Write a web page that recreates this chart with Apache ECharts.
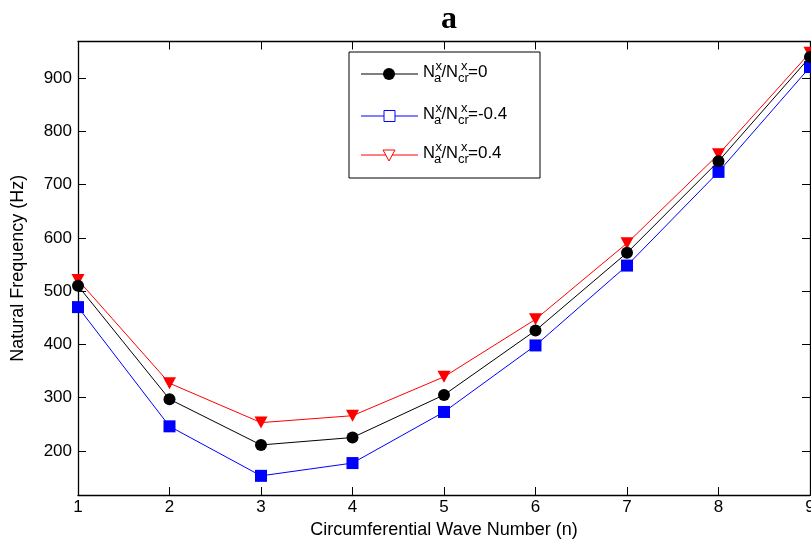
<!DOCTYPE html>
<html>
<head>
<meta charset="utf-8">
<script src="https://cdn.jsdelivr.net/npm/echarts@6/dist/echarts.min.js"></script>
<style>
  html, body { margin: 0; padding: 0; background: #fff; }
  #chart { width: 811px; height: 546px; }
</style>
</head>
<body>
<div id="chart"></div>
<script>
// Circumferential wave numbers
const waveNumbers = [1, 2, 3, 4, 5, 6, 7, 8, 9];
// Natural frequencies (Hz) for each axial load ratio
const freqRatio0 = [510, 297, 211, 225, 305, 426, 572, 744, 940];
const freqRatioNeg04 = [470, 246, 153, 177, 273, 398, 548, 724, 921];
const freqRatioPos04 = [521, 327, 253, 266, 339, 447, 590, 757, 948];
// Frequency axis tick values
const yTicks = [200, 300, 400, 500, 600, 700, 800, 900];

const FONT = '"Liberation Sans", Arial, Helvetica, sans-serif';

const pairs = vals => waveNumbers.map((n, i) => [n, vals[i]]);

const chart = echarts.init(document.getElementById('chart'), null, { renderer: 'canvas' });

const gridLeft = 78, gridTop = 41.5, gridRight = 1, gridBottom = 51;

const baseX = {
  type: 'value', min: 1, max: 9, interval: 1,
  axisLine: { show: true, onZero: false, lineStyle: { color: '#000', width: 1.3 } },
  axisTick: { show: true, inside: true, length: 8, lineStyle: { color: '#000', width: 1 } },
  splitLine: { show: false }
};
const baseY = {
  type: 'value', min: 117, max: 969,
  axisLine: { show: true, onZero: false, lineStyle: { color: '#000', width: 1.3 } },
  axisTick: { show: true, inside: true, length: 8, customValues: yTicks, lineStyle: { color: '#000', width: 1 } },
  splitLine: { show: false }
};

// Legend drawn as graphic elements (stacked sub/superscripts)
const legendX = 349, legendY = 52, legendW = 191, legendH = 126;
const rowsY = [74, 116, 155];
const rowColors = ['#000000', '#0000ff', '#ff0000'];
const rowValues = ['=0', '=-0.4', '=0.4'];
const legendItems = [];
legendItems.push({
  type: 'rect', shape: { x: legendX, y: legendY, width: legendW, height: legendH },
  style: { fill: '#fff', stroke: '#000', lineWidth: 1 }, z: 10
});
rowsY.forEach((ry, i) => {
  legendItems.push({
    type: 'line', shape: { x1: 361, y1: ry, x2: 418, y2: ry },
    style: { stroke: rowColors[i], lineWidth: 1 }, z: 11
  });
  if (i === 0) {
    legendItems.push({ type: 'circle', shape: { cx: 389, cy: ry, r: 6 }, style: { fill: '#000' }, z: 12 });
  } else if (i === 1) {
    legendItems.push({ type: 'rect', shape: { x: 384, y: ry - 5.5, width: 11, height: 11 }, style: { fill: '#fff', stroke: '#0000ff', lineWidth: 1 }, z: 12 });
  } else {
    legendItems.push({ type: 'polygon', shape: { points: [[383, ry - 5], [395, ry - 5], [389, ry + 6]] }, style: { fill: '#fff', stroke: '#ff0000', lineWidth: 1 }, z: 12 });
  }
  const base = ry + 3.5;
  const t = (txt, x, y, size) => ({
    type: 'text', x: x, y: y, z: 12,
    style: { text: txt, fill: '#000', font: size + 'px ' + FONT, textAlign: 'left', textVerticalAlign: 'bottom' }
  });
  legendItems.push(t('N', 423, base + 3.5, 16.5));
  legendItems.push(t('x', 435.5, base - 5, 13));
  legendItems.push(t('a', 434, base + 7.5, 13));
  legendItems.push(t('/N', 441.5, base + 3.5, 16.5));
  legendItems.push(t('x', 461, base - 5, 13));
  legendItems.push(t('cr', 458, base + 7.5, 13));
  legendItems.push(t(rowValues[i], 468, base + 3.5, 17));
});

const option = {
  animation: false,
  backgroundColor: '#fff',
  title: {
    text: 'a', left: 444, top: -1, textAlign: 'center',
    textStyle: { fontFamily: '"Liberation Serif", "Times New Roman", serif', fontWeight: 'bold', fontSize: 32, color: '#000' }
  },
  grid: { left: gridLeft, right: gridRight, top: gridTop, bottom: gridBottom, containLabel: false, outerBoundsMode: 'none' },
  xAxis: [
    Object.assign({}, baseX, {
      position: 'bottom',
      name: 'Circumferential Wave Number (n)', nameLocation: 'middle', nameGap: 26,
      nameTextStyle: { fontFamily: FONT, fontSize: 18, color: '#000' },
      axisLabel: { show: true, margin: 4, fontFamily: FONT, fontSize: 17, color: '#000' }
    }),
    Object.assign({}, baseX, { position: 'top', axisLabel: { show: false } })
  ],
  yAxis: [
    Object.assign({}, baseY, {
      position: 'left',
      name: 'Natural Frequency (Hz)', nameLocation: 'middle', nameGap: 51,
      nameTextStyle: { fontFamily: FONT, fontSize: 18, color: '#000' },
      axisLabel: { show: true, margin: 6, customValues: yTicks, fontFamily: FONT, fontSize: 17, color: '#000' }
    }),
    Object.assign({}, baseY, { position: 'right', axisLabel: { show: false } })
  ],
  series: [
    {
      name: 'ratio0', type: 'line', data: pairs(freqRatio0),
      symbol: 'circle', symbolSize: 12,
      lineStyle: { color: '#000', width: 1 }, itemStyle: { color: '#000' }, z: 3
    },
    {
      name: 'ratioNeg04', type: 'line', data: pairs(freqRatioNeg04),
      symbol: 'rect', symbolSize: 12,
      lineStyle: { color: '#0000ff', width: 1 }, itemStyle: { color: '#0000ff' }, z: 2
    },
    {
      name: 'ratioPos04', type: 'line', data: pairs(freqRatioPos04),
      symbol: 'triangle', symbolRotate: 180, symbolSize: [13, 12],
      lineStyle: { color: '#ff0000', width: 1 }, itemStyle: { color: '#ff0000' }, z: 1
    }
  ],
  graphic: legendItems
};

chart.setOption(option);
</script>
</body>
</html>
